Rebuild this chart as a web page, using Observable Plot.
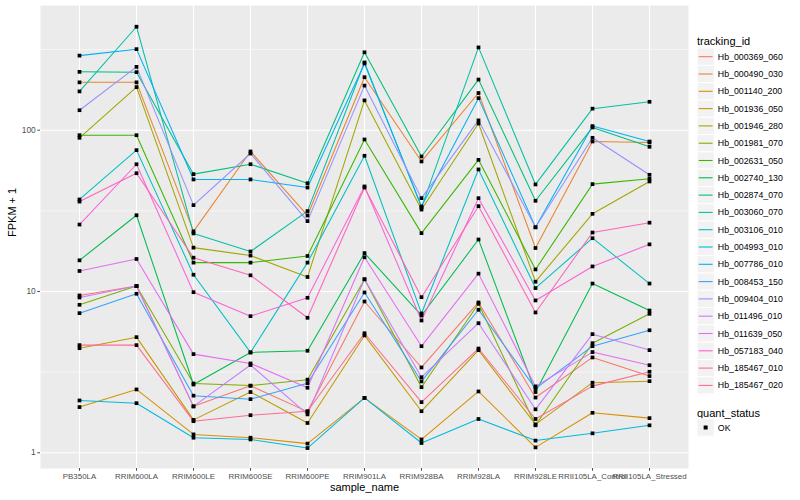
<!DOCTYPE html>
<html>
<head>
<meta charset="utf-8">
<script src="https://cdn.jsdelivr.net/npm/d3@7"></script>
<script src="https://cdn.jsdelivr.net/npm/@observablehq/plot@0.6"></script>
<style>
  body { margin: 0; background: white; }
  #wrap { position: relative; width: 800px; height: 500px; font-family: "Liberation Sans", Arial, sans-serif; }
  #chart { position: absolute; left: 0; top: 0; }
  #legend { position: absolute; left: 697px; top: 0; }
</style>
</head>
<body>
<div id="wrap"><div id="chart"></div><div id="legend"></div></div>
<script>
const samples = ["PB350LA","RRIM600LA","RRIM600LE","RRIM600SE","RRIM600PE","RRIM901LA","RRIM928BA","RRIM928LA","RRIM928LE","RRII105LA_Control","RRII105LA_Stressed"];
const trackingIds = ["Hb_000369_060","Hb_000490_030","Hb_001140_200","Hb_001936_050","Hb_001946_280","Hb_001981_070","Hb_002631_050","Hb_002740_130","Hb_002874_070","Hb_003060_070","Hb_003106_010","Hb_004993_010","Hb_007786_010","Hb_008453_150","Hb_009404_010","Hb_011496_010","Hb_011639_050","Hb_057183_040","Hb_185467_010","Hb_185467_020"];
const palette = ["#F8766D","#EA8331","#D89000","#C09B00","#A3A500","#7CAE00","#39B600","#00BB4E","#00BF7D","#00C1A3","#00BFC4","#00BAE0","#00B0F6","#35A2FF","#9590FF","#C77CFF","#E76BF3","#FA62DB","#FF62BC","#FF6C91"];

// FPKM + 1 per sample (same order as samples)
const hb000369_060 = [9.45,10.8,1.94,2.60,1.80,8.67,3.38,8.55,2.20,3.90,2.99];
const hb000490_030 = [198,198,23.6,73.8,29.6,213,64.0,170,18.6,85.1,84.0];
const hb001140_200 = [1.92,2.47,1.30,1.24,1.14,2.19,1.21,2.40,1.08,1.77,1.64];
const hb001936_050 = [4.45,5.21,1.60,2.38,1.53,5.34,1.81,4.33,1.50,2.72,2.78];
const hb001946_280 = [89.7,185,18.7,16.7,12.3,153,32.2,110,11.5,30.3,48.1];
const hb001981_070 = [8.27,10.8,2.69,2.61,2.84,11.9,2.55,8.39,1.48,4.78,7.27];
const hb002631_050 = [93.1,93.1,15.1,15.1,16.6,87.6,23.0,65.5,13.7,46.3,50.0];
const hb002740_130 = [15.6,29.7,2.65,4.19,4.29,17.3,7.10,21.0,2.38,11.2,7.62];
const hb002874_070 = [230,229,53.4,61.5,46.9,304,68.7,206,36.5,104,78.9];
const hb003060_070 = [174,438,22.9,17.7,31.5,263,33.2,326,46.1,136,150];
const hb003106_010 = [37.2,75.2,12.7,4.19,15.1,69.4,7.31,57.1,10.5,21.4,11.2];
const hb004993_010 = [2.11,2.03,1.24,1.21,1.07,2.19,1.15,1.62,1.19,1.32,1.48];
const hb007786_010 = [290,318,49.5,49.5,44.1,259,33.7,158,25.0,106,85.1];
const hb008453_150 = [7.34,9.68,2.26,2.15,2.70,9.86,2.77,7.70,2.50,4.58,5.75];
const hb009404_010 = [133,247,34.3,71.7,27.3,189,37.9,115,25.0,89.7,52.9];
const hb011496_010 = [9.18,10.8,1.94,3.50,1.73,11.9,2.94,6.36,1.86,5.44,4.33];
const hb011639_050 = [13.4,15.9,4.09,3.58,2.53,16.3,4.58,12.9,2.58,4.21,3.49];
const hb057183_040 = [26.0,61.5,9.90,7.03,9.14,44.8,6.61,37.9,8.80,14.3,19.6];
const hb185467_010 = [36.1,54.1,16.2,12.6,6.87,44.1,9.22,33.8,7.41,23.2,26.7];
const hb185467_020 = [4.65,4.65,1.57,1.71,1.81,5.51,2.06,4.43,1.62,2.59,3.18];

const majorTicks = [1, 10, 100];
const minorTicks = [Math.sqrt(10), Math.sqrt(1000), Math.sqrt(100000)];
const quantStatus = ["OK"];

const seriesValues = [hb000369_060,hb000490_030,hb001140_200,hb001936_050,hb001946_280,hb001981_070,hb002631_050,hb002740_130,hb002874_070,hb003060_070,hb003106_010,hb004993_010,hb007786_010,hb008453_150,hb009404_010,hb011496_010,hb011639_050,hb057183_040,hb185467_010,hb185467_020];

const rows = [];
trackingIds.forEach((id, i) => {
  seriesValues[i].forEach((v, j) => rows.push({id, sample: samples[j], value: v, status: "OK"}));
});

const chart = Plot.plot({
  width: 690,
  height: 500,
  marginLeft: 40,
  marginRight: 2,
  marginTop: 5,
  marginBottom: 32,
  style: {fontFamily: "Liberation Sans, Arial, sans-serif", fontSize: "8.8px", color: "#4D4D4D", background: "white"},
  x: {type: "point", domain: samples, padding: 0.6},
  y: {type: "log", domain: [0.799, 593]},
  color: {domain: trackingIds, range: palette},
  marks: [
    Plot.frame({fill: "#EBEBEB", stroke: "none"}),
    Plot.ruleY(minorTicks, {stroke: "white", strokeWidth: 0.55}),
    Plot.ruleY(majorTicks, {stroke: "white", strokeWidth: 1.1}),
    Plot.ruleX(samples, {stroke: "white", strokeWidth: 1.1}),
    Plot.line(rows, {x: "sample", y: "value", z: "id", stroke: "id", strokeWidth: 1.05}),
    Plot.dot(rows, {x: "sample", y: "value", symbol: "square", r: 2.1, fill: "black", stroke: "none"}),
    Plot.axisY({ticks: majorTicks, tickFormat: d => String(d), tickSize: 2.75, tickPadding: 2, label: null, fontSize: 8.4}),
    Plot.axisX({tickSize: 2.75, tickPadding: 2, label: null, fontSize: 7.9}),
    Plot.text(["FPKM + 1"], {text: d => d, frameAnchor: "left", dx: -28, rotate: -90, fontSize: 11, fill: "black"}),
    Plot.text(["sample_name"], {text: d => d, frameAnchor: "bottom", dy: 22, fontSize: 11, fill: "black"})
  ]
});
document.getElementById("chart").appendChild(chart);

// Legend (ggplot style, to the right)
const color = chart.scale("color");
const key = 17.3;
const lg = d3.select("#legend").append("svg")
  .attr("width", 103).attr("height", 500)
  .style("font-family", "Liberation Sans, Arial, sans-serif");
lg.append("text").attr("x", 0).attr("y", 44.5).attr("font-size", 11).attr("fill", "black").text("tracking_id");
trackingIds.forEach((id, i) => {
  const cy = 56.7 + i * key;
  const g = lg.append("g");
  g.append("rect").attr("x", 0).attr("y", cy - key / 2).attr("width", key).attr("height", key)
    .attr("fill", "#F2F2F2").attr("stroke", "white").attr("stroke-width", 1);
  g.append("line").attr("x1", 1.7).attr("x2", key - 1.7).attr("y1", cy).attr("y2", cy)
    .attr("stroke", color.apply(id)).attr("stroke-width", 1.1);
  g.append("text").attr("x", key + 3.5).attr("y", cy).attr("dy", "0.35em")
    .attr("font-size", 8.8).attr("fill", "black").text(id);
});
lg.append("text").attr("x", 0).attr("y", 416.5).attr("font-size", 11).attr("fill", "black").text("quant_status");
quantStatus.forEach((s, i) => {
  const cy = 427.5 + i * key;
  lg.append("rect").attr("x", 0).attr("y", cy - key / 2).attr("width", key).attr("height", key)
    .attr("fill", "#F2F2F2").attr("stroke", "white");
  lg.append("rect").attr("x", key / 2 - 2).attr("y", cy - 2).attr("width", 4).attr("height", 4).attr("fill", "black");
  lg.append("text").attr("x", key + 3.5).attr("y", cy).attr("dy", "0.35em")
    .attr("font-size", 8.8).attr("fill", "black").text(s);
});
</script>
</body>
</html>
